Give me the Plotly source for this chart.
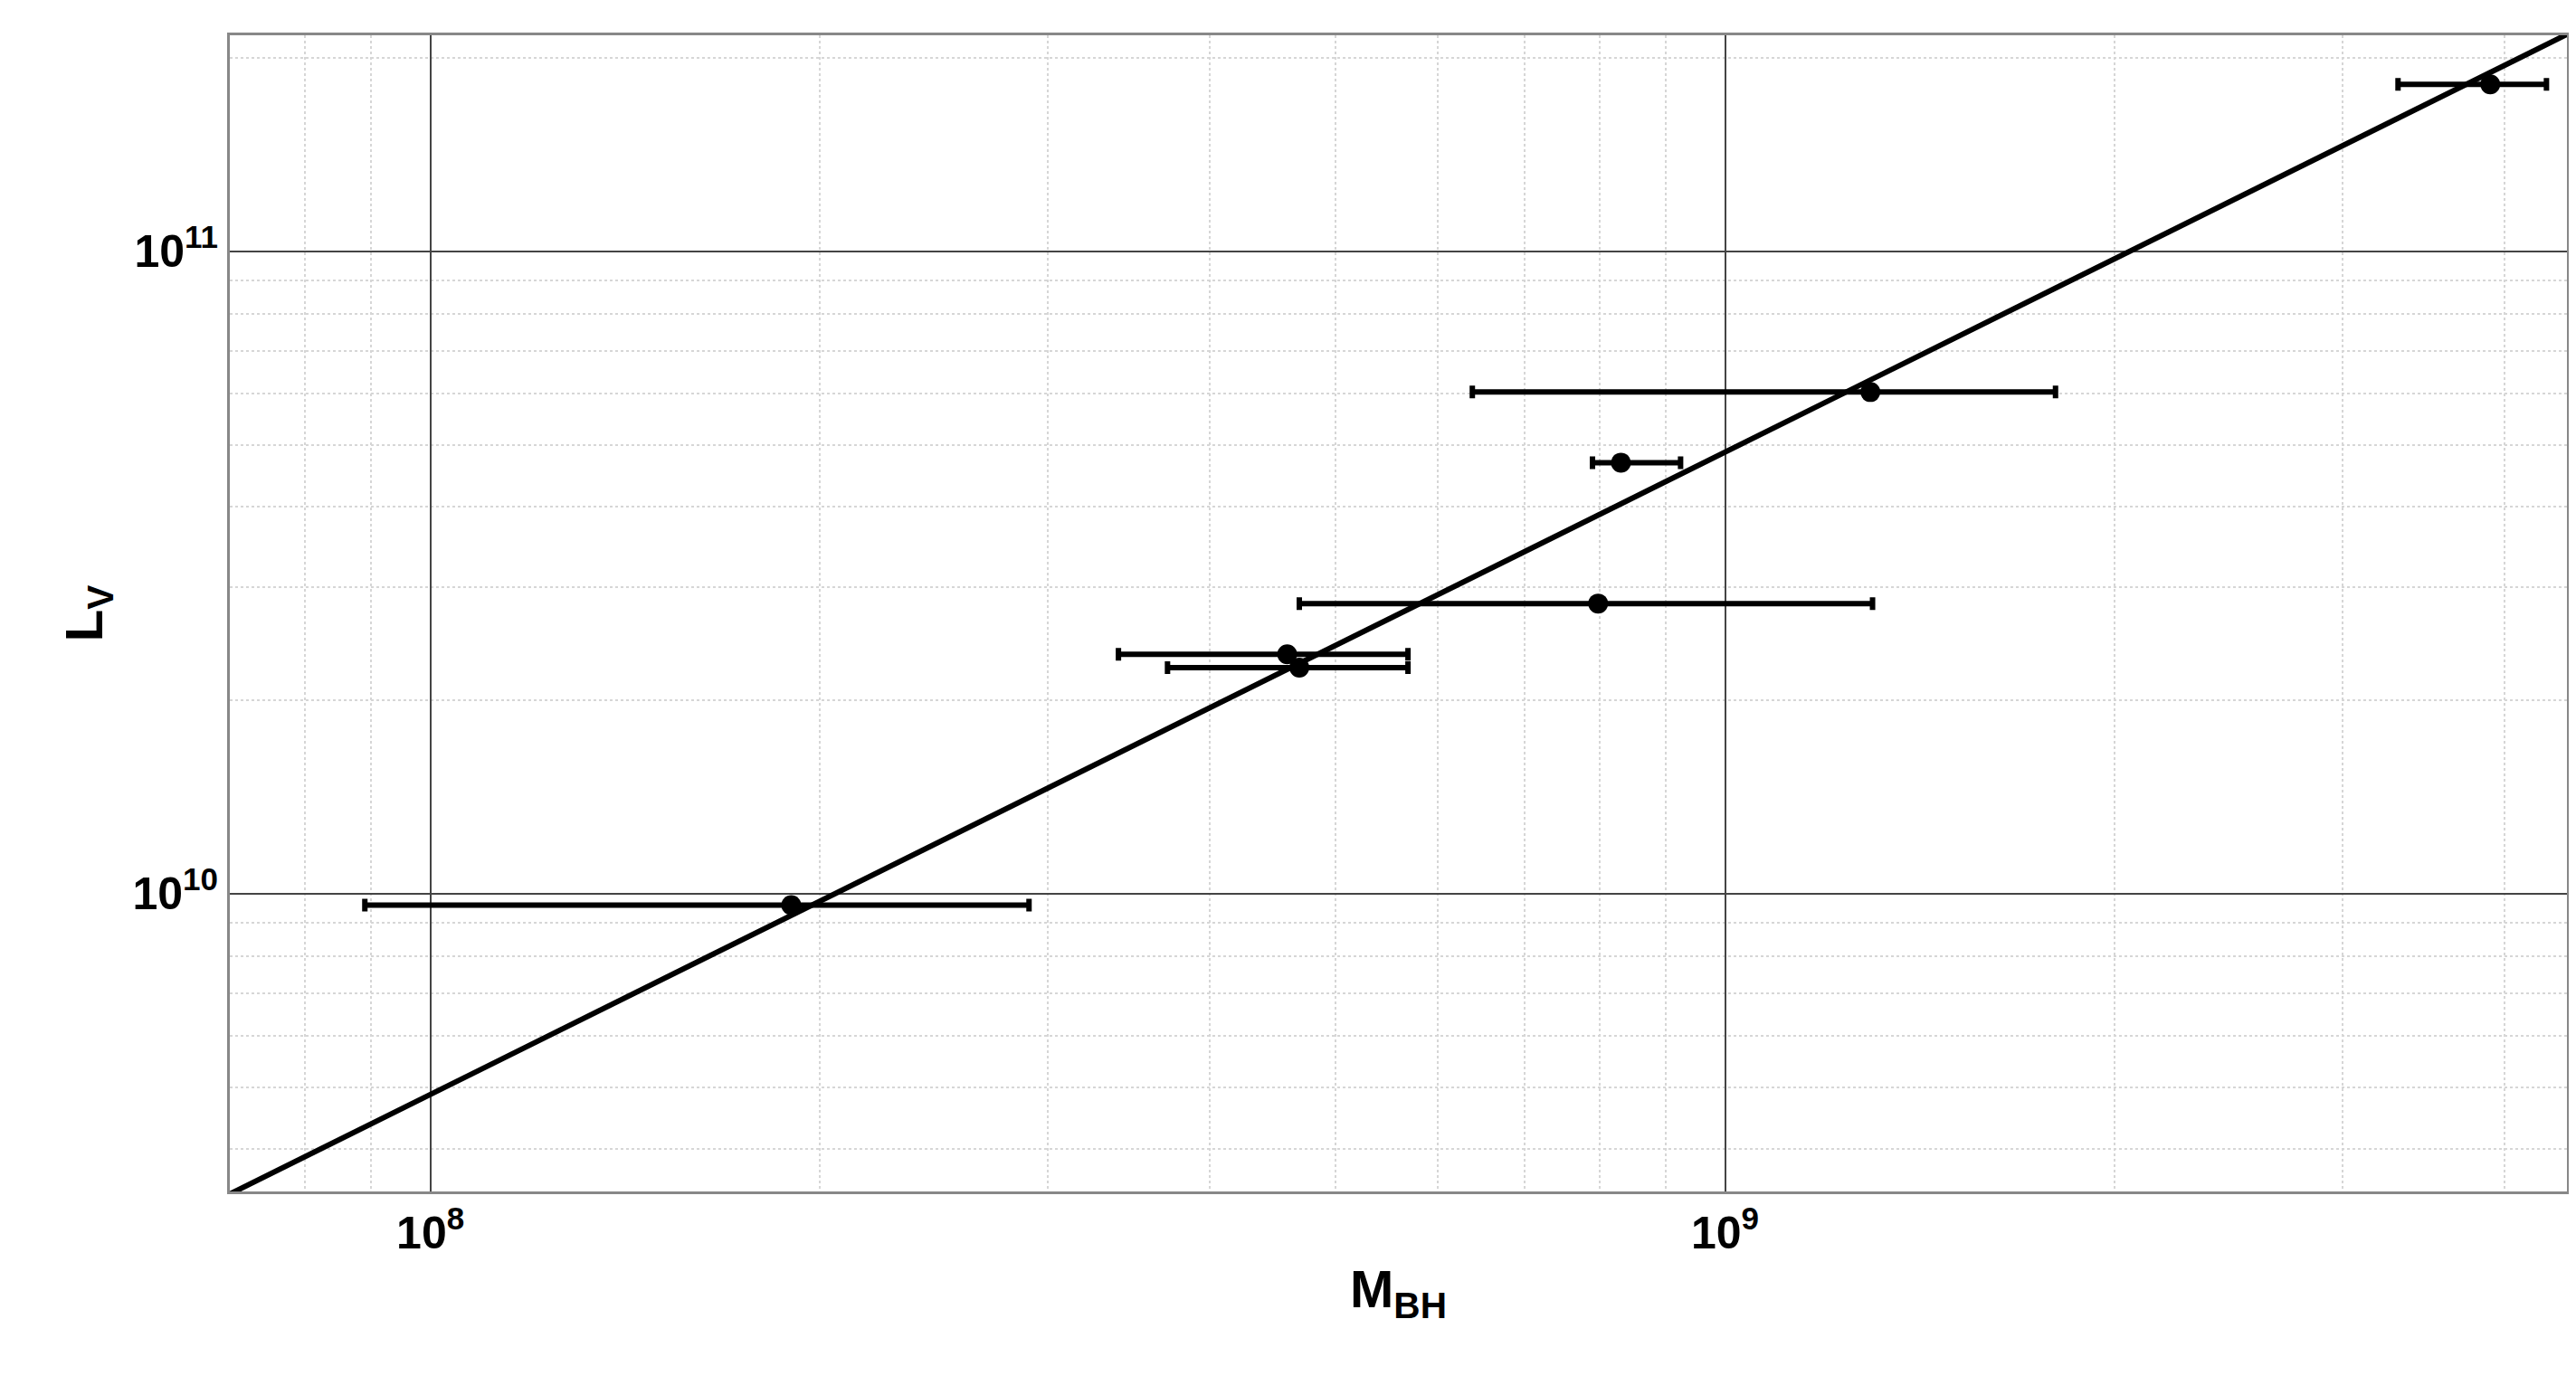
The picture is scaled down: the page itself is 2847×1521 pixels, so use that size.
import numpy as np
import plotly.graph_objects as go

m_bh = [1.90e8, 4.59e8, 4.69e8, 7.98e8, 8.31e8, 1.295e9, 3.90e9]
l_v = [9.6e9, 2.36e10, 2.25e10, 2.83e10, 4.69e10, 6.04e10, 1.82e11]
m_lo = [8.9e7, 3.40e8, 3.71e8, 4.69e8, 7.90e8, 6.38e8, 3.31e9]
m_hi = [2.90e8, 5.69e8, 5.69e8, 1.30e9, 9.24e8, 1.80e9, 4.31e9]
fit_ratio = 48.7
x_range = [7.0e7, 4.47e9]
y_range = [3.44e9, 2.17e11]

err_plus = [h - m for h, m in zip(m_hi, m_bh)]
err_minus = [m - l for l, m in zip(m_lo, m_bh)]

fit_x = np.logspace(np.log10(x_range[0]), np.log10(x_range[1]), 50)
fit_y = fit_ratio * fit_x

fig = go.Figure()
fig.add_trace(go.Scatter(x=fit_x, y=fit_y, mode="lines",
                         line=dict(color="black", width=6), showlegend=False))
fig.add_trace(go.Scatter(x=m_bh, y=l_v, mode="markers",
                         marker=dict(color="black", size=22),
                         error_x=dict(type="data", symmetric=False, array=err_plus,
                                      arrayminus=err_minus, color="black",
                                      thickness=6, width=7),
                         showlegend=False))

minor_x = [k * 10**e for e in range(7, 10) for k in range(2, 10)]
minor_y = [k * 10**e for e in range(9, 12) for k in range(2, 10)]
font = dict(family="Liberation Sans, Arial", size=50, color="black")
tfont = dict(family="Liberation Sans, Arial", size=58, color="black")

fig.update_xaxes(type="log", range=[np.log10(x_range[0]), np.log10(x_range[1])],
                 tickvals=[1e8, 1e9], ticktext=["<b>10<sup>8</sup></b>", "<b>10<sup>9</sup></b>"],
                 showgrid=True, gridcolor="#444444", gridwidth=2,
                 minor=dict(tickvals=minor_x, showgrid=True, gridcolor="#d6d6d6", gridwidth=2, griddash="dot"),
                 showline=True, linecolor="#888888", linewidth=3, mirror=True,
                 ticks="", tickfont=font, zeroline=False,
                 title=dict(text="<b>M<sub>BH</sub></b>", font=tfont, standoff=15))
fig.update_yaxes(type="log", range=[np.log10(y_range[0]), np.log10(y_range[1])],
                 tickvals=[1e10, 1e11], ticktext=["<b>10<sup>10</sup></b>", "<b>10<sup>11</sup></b>"],
                 showgrid=True, gridcolor="#444444", gridwidth=2,
                 minor=dict(tickvals=minor_y, showgrid=True, gridcolor="#d6d6d6", gridwidth=2, griddash="dot"),
                 showline=True, linecolor="#888888", linewidth=3, mirror=True,
                 ticks="", tickfont=font, zeroline=False,
                 title=dict(text="<b>L<sub>V</sub></b>", font=tfont, standoff=15))
fig.update_layout(width=2847, height=1521, plot_bgcolor="white", paper_bgcolor="white",
                  margin=dict(l=246, r=18, t=31, b=212))
fig.write_html("out.html")
